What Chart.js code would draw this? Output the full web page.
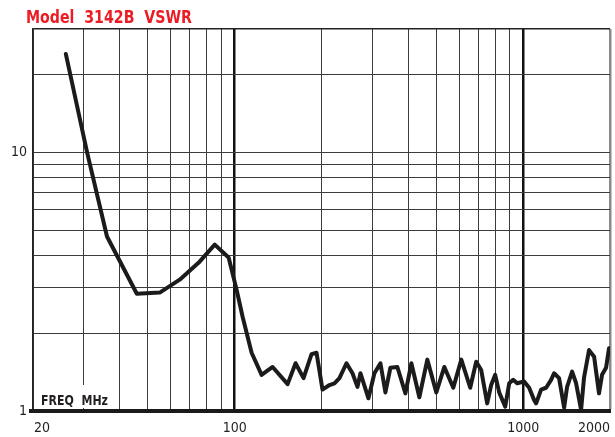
<!DOCTYPE html>
<html>
<head>
<meta charset="utf-8">
<title>Model 3142B VSWR</title>
<script src="https://cdn.jsdelivr.net/npm/chart.js@4"></script>
<style>
    body { margin: 0; background: #fff; }
    canvas { display: block; }
</style>
</head>
<body>
<canvas id="vswrChart" width="615" height="437"></canvas>
<script>
//Measured VSWR over frequency
const freqMHz = [26.0, 30.8, 36.1, 45.8, 55.0, 64.5, 75.6, 85.3, 95.3, 101.6, 106.6, 114.5, 124.0, 135.4, 152.6, 162.6, 173.3, 184.7, 192.2, 201.6, 213.2, 221.8, 230.8, 244.1, 256.1, 266.5, 272.9, 290.9, 305.1, 320.1, 333.1, 346.6, 366.4, 390.7, 409.8, 436.7, 465.4, 500, 533.1, 572.5, 610.4, 655.4, 687.5, 715.5, 750.5, 774.8, 800, 826, 866.6, 894.7, 923.6, 953.2, 1008, 1049, 1092, 1109, 1154, 1201, 1250, 1280, 1332, 1387, 1420, 1478, 1526, 1588, 1626, 1692, 1762, 1832, 1877, 1938, 1985];
const vswr = [24.0, 10.0, 4.73, 2.84, 2.87, 3.22, 3.78, 4.40, 3.92, 2.94, 2.31, 1.68, 1.38, 1.48, 1.27, 1.53, 1.34, 1.66, 1.68, 1.21, 1.26, 1.28, 1.34, 1.53, 1.40, 1.24, 1.40, 1.12, 1.40, 1.53, 1.18, 1.47, 1.48, 1.17, 1.53, 1.13, 1.58, 1.18, 1.48, 1.23, 1.58, 1.23, 1.55, 1.44, 1.07, 1.26, 1.38, 1.18, 1.04, 1.28, 1.32, 1.28, 1.30, 1.23, 1.10, 1.07, 1.21, 1.23, 1.32, 1.40, 1.34, 1.03, 1.24, 1.42, 1.28, 1.01, 1.35, 1.72, 1.62, 1.17, 1.38, 1.47, 1.75];

//Grid lines and labelled ticks
const xGridTicks = [20, 30, 40, 50, 60, 70, 80, 90, 100, 200, 300, 400, 500, 600, 700, 800, 900, 1000, 2000];
const xTickLabels = [20, 100, 1000, 2000];
const yGridTicks = [1, 2, 3, 4, 5, 6, 7, 8, 9, 10, 20, 30];
const yTickLabels = [1, 10];

const chartTitle = "Model  3142B  VSWR";
const axisNote = "FREQ  MHz";

const narrowFont = '"Liberation Sans Narrow", "Arial Narrow", "DejaVu Sans Condensed", sans-serif';

//Heavier lines at the decades
function isDecade(v) {
    return v === 100 || v === 1000;
}

//Draw text squeezed to a given width (condensed look)
function fitText(ctx, text, x, y, width) {
    const w = ctx.measureText(text).width;
    const s = Math.min(1, width / w);
    ctx.save();
    ctx.translate(x, y);
    ctx.scale(s, 1);
    ctx.fillText(text, 0, 0);
    ctx.restore();
}

//Title, frequency labels and axis note
const textPlugin = {
    id: "vswrText",
    afterDraw(chart) {
        const ctx = chart.ctx;
        const area = chart.chartArea;
        const xScale = chart.scales.x;
        ctx.save();

        //Bottom axis runs a little past the left edge
        ctx.fillStyle = "#1a1a1a";
        ctx.fillRect(area.left - 4, area.bottom - 2, 4, 4);

        ctx.fillStyle = "#ed1c24";
        ctx.font = "bold 18px " + narrowFont;
        ctx.textAlign = "left";
        ctx.textBaseline = "alphabetic";
        fitText(ctx, chartTitle, 26, 23, 166);

        ctx.fillStyle = "#231f20";
        ctx.font = "14px " + narrowFont;
        xTickLabels.forEach((v, i) => {
            const px = xScale.getPixelForValue(v);
            if (i === 0) {
                ctx.textAlign = "left";
                ctx.fillText(String(v), px + 1, 432);
            } else if (i === xTickLabels.length - 1) {
                ctx.textAlign = "right";
                ctx.fillText(String(v), px, 432);
            } else {
                ctx.textAlign = "center";
                ctx.fillText(String(v), px, 432);
            }
        });

        //Axis note sits on a white patch over the grid
        ctx.fillStyle = "#fff";
        ctx.fillRect(area.left + 3, area.bottom - 26, 76, 23);
        ctx.fillStyle = "#231f20";
        ctx.font = "bold 14px " + narrowFont;
        ctx.textAlign = "left";
        fitText(ctx, axisNote, area.left + 8, area.bottom - 6, 67);
        ctx.restore();
    }
};

const points = freqMHz.map((f, i) => ({x: f, y: vswr[i]}));

new Chart(document.getElementById("vswrChart"), {
    type: "line",
    data: {
        datasets: [{
            label: "VSWR",
            data: points,
            borderColor: "#1c1a1b",
            borderWidth: 4,
            borderJoinStyle: "round",
            borderCapStyle: "round",
            pointRadius: 0,
            tension: 0,
            fill: false
        }]
    },
    options: {
        responsive: false,
        animation: false,
        parsing: false,
        layout: {padding: {top: 29, right: 5, left: 0, bottom: 0}},
        plugins: {
            legend: {display: false},
            title: {display: false},
            tooltip: {enabled: false}
        },
        scales: {
            x: {
                type: "logarithmic",
                min: 20,
                max: 2000,
                afterBuildTicks: scale => {
                    scale.ticks = xGridTicks.map(v => ({value: v}));
                },
                afterFit: scale => {
                    scale.height = 26;
                },
                ticks: {display: false},
                grid: {
                    drawTicks: false,
                    color: c => {
                        if (c.tick && c.tick.value === 2000) return "#8a8a8a";
                        return c.tick && isDecade(c.tick.value) ? "#111" : "#3c3c3c";
                    },
                    lineWidth: c => {
                        if (c.tick && c.tick.value === 2000) return 2.5;
                        return c.tick && isDecade(c.tick.value) ? 2.5 : 1;
                    }
                },
                border: {color: "#1a1a1a", width: 4}
            },
            y: {
                type: "logarithmic",
                min: 1,
                max: 30,
                afterBuildTicks: scale => {
                    scale.ticks = yGridTicks.map(v => ({value: v}));
                },
                afterFit: scale => {
                    scale.width = 33;
                },
                ticks: {
                    autoSkip: false,
                    padding: 6,
                    color: "#231f20",
                    font: {family: narrowFont, size: 14},
                    callback: v => yTickLabels.includes(v) ? String(v) : ""
                },
                grid: {
                    drawTicks: false,
                    color: c => c.tick && c.tick.value === 30 ? "#222" : "#3c3c3c",
                    lineWidth: c => c.tick && c.tick.value === 30 ? 1.5 : 1
                },
                border: {color: "#222", width: 1.5}
            }
        }
    },
    plugins: [textPlugin]
});
</script>
</body>
</html>
